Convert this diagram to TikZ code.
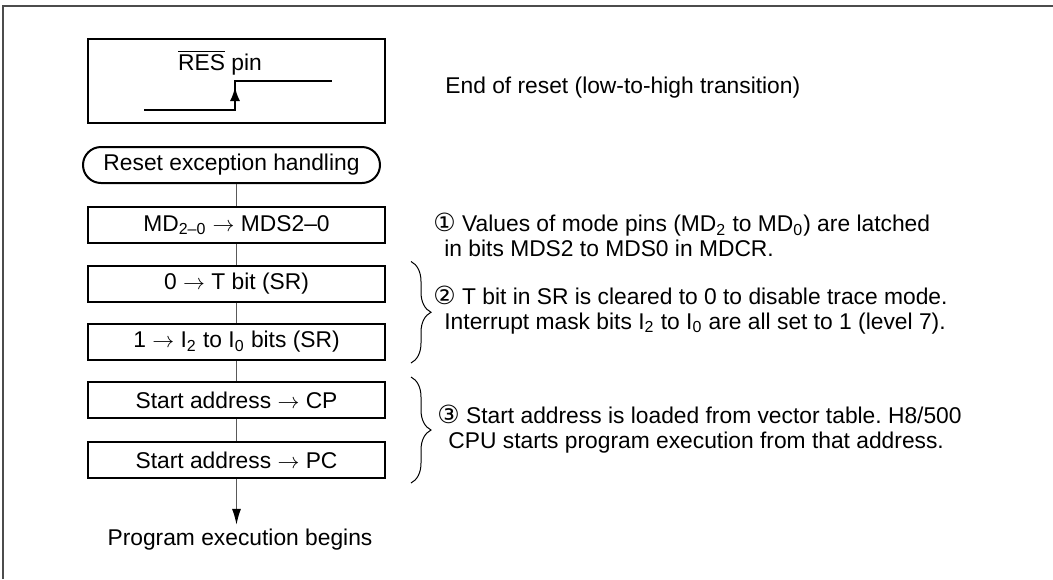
\documentclass[tikz,border=0pt]{standalone}
\usepackage{fontspec}
\setmainfont{Liberation Sans}
\newfontfamily\circfont{DejaVu Sans}
\usepackage{tikz}
\usetikzlibrary{positioning, arrows.meta, calc, shapes.misc, decorations.pathreplacing}
\frenchspacing
\newcommand{\figfont}{\fontsize{11.4}{12.5}\selectfont}
\newcommand{\circnum}[1]{{\circfont\fontsize{12.5}{12.5}\selectfont #1}}
\tikzset{
  procbox/.style = {draw, rectangle, line width=1pt, minimum width=148.5pt,
                    minimum height=18pt, inner sep=0pt, font=\figfont},
  termbox/.style = {draw, rounded rectangle, line width=1pt, minimum width=148.5pt,
                    minimum height=18pt, inner sep=0pt, font=\figfont},
  link/.style    = {line width=0.8pt, black!65},
  flow/.style    = {-{Latex[length=8pt, width=4.5pt, black]}, line width=0.8pt, black!65},
  sig/.style     = {line width=0.9pt},
  sigarr/.style  = {-{Latex[length=7pt, width=5pt]}, line width=0.9pt},
  brc/.style     = {decorate, decoration={brace, amplitude=10pt}, line width=0.5pt},
  note/.style    = {anchor=west, align=left, inner sep=0pt, font=\figfont},
  lbl/.style     = {inner sep=0pt, font=\figfont},
  frame/.style   = {line width=1pt, black!70},
}

\begin{document}
\begin{tikzpicture}[x=0.5pt, y=-0.5pt]
  \useasboundingbox (0,0) rectangle (1053,579);
  % outer frame
  \draw[frame] (3,579) -- (3,6) -- (1053,6);
  % RES pin waveform
  \node[procbox, minimum height=42pt] (res) at (236.5,81) {};
  \node[lbl] (reslbl) at (220,63) {$\overline{\hbox{RES}}$ pin};
  \coordinate (s0) at (144,110);
  \coordinate (s1) at (235,110);
  \coordinate (s2) at (235,81);
  \coordinate (s3) at (332,81);
  \coordinate (s4) at (235,87);
  \draw[sig] (s0) -- (s1) -- (s2) -- (s3);
  \draw[sigarr] (s1) -- (s4);
  % flow nodes
  \node[termbox] (start) at (231.5,165) {Reset exception handling};
  \node[procbox] (mds)   at (236.5,225) {MD\textsubscript{2–0} $\rightarrow$ MDS2–0};
  \node[procbox] (tbit)  at (236.5,283.5) {0 $\rightarrow$ T bit (SR)};
  \node[procbox] (ibits) at (236.5,342) {1 $\rightarrow$ I\textsubscript{2} to I\textsubscript{0} bits (SR)};
  \node[procbox] (cp)    at (236.5,400) {Start address $\rightarrow$ CP};
  \node[procbox] (pc)    at (236.5,460) {Start address $\rightarrow$ PC};
  \node[lbl] (prog) at (240,540) {Program execution begins};
  % connectors
  \draw[link] (mds.north |- start.south) -- (mds);
  \draw[link] (mds) -- (tbit);
  \draw[link] (tbit) -- (ibits);
  \draw[link] (ibits) -- (cp);
  \draw[link] (cp) -- (pc);
  \draw[flow, shorten >=2pt] (pc) -- (pc.south |- prog.north);
  % braces
  \draw[brc] ($(tbit.north east)+(25,-3)$) -- ($(ibits.south east)+(25,2)$);
  \draw[brc] ($(cp.north east)+(25,-4)$) -- ($(pc.south east)+(25,4)$);
  % notes
  \node[note] (n0) at (445,88) {End of reset (low-to-high transition)};
  \node[note] (n1) at (433,235) {\circnum{①} Values of mode pins (MD\textsubscript{2} to MD\textsubscript{0}) are latched\\
    \hspace{5.5pt}in bits MDS2 to MDS0 in MDCR.};
  \node[note] (n2) at (433,310) {\circnum{②} T bit in SR is cleared to 0 to disable trace mode.\\
    \hspace{5.5pt}Interrupt mask bits I\textsubscript{2} to I\textsubscript{0} are all set to 1 (level 7).};
  \node[note] (n3) at (437,429) {\circnum{③} Start address is loaded from vector table. H8/500\\
    \hspace{5.5pt}CPU starts program execution from that address.};
\end{tikzpicture}
\end{document}
